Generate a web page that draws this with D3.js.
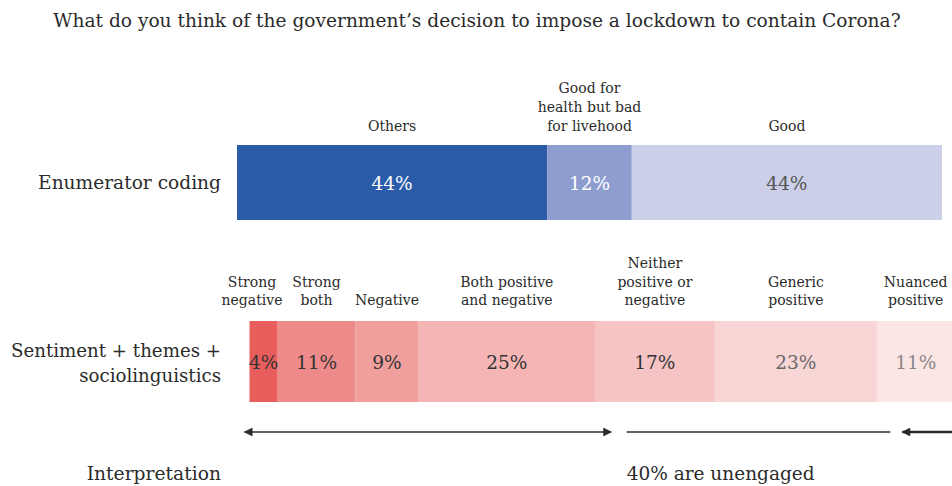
<!DOCTYPE html>
<html><head><meta charset="utf-8">
<script src="https://cdn.jsdelivr.net/npm/d3@7"></script>
<style>
html,body{margin:0;padding:0;background:#fff;overflow:hidden}
svg{display:block;font-family:"DejaVu Serif",Georgia,serif}
</style></head><body>
<svg id="c" width="952" height="486"></svg>
<script>
const title = "What do you think of the government\u2019s decision to impose a lockdown to contain Corona?";
const rowLabels = [["Enumerator coding"], ["Sentiment + themes +", "sociolinguistics"]];
const topCategories = [["Others"], ["Good for", "health but bad", "for livehood"], ["Good"]];
const topValues = [44, 12, 44];
const topColors = ["#2a5ca9", "#8e9dcf", "#cbcfe8"];
const topTextColors = ["#ffffff", "#ffffff", "#555555"];
const bottomCategories = [["Strong", "negative"], ["Strong", "both"], ["Negative"], ["Both positive", "and negative"], ["Neither", "positive or", "negative"], ["Generic", "positive"], ["Nuanced", "positive"]];
const bottomValues = [4, 11, 9, 25, 17, 23, 11];
const bottomColors = ["#e95d5d", "#ee8a8a", "#f09f9d", "#f5b5b5", "#f6c4c4", "#f8d6d6", "#fbe5e5"];
const bottomTextColors = ["#333333", "#333333", "#333333", "#333333", "#333333", "#666666", "#888888"];
const interpretationLabel = "Interpretation";
const interpretationNote = "40% are unengaged";
// spans in bottom-bar percentage units: [start, end, arrowStart, arrowEnd, heavy]
const interpretationSpans = [[-0.7, 51.3, true, true, false], [53.5, 90.9, false, false, false], [92.6, 101.5, true, true, true]];

const svg = d3.select("#c");
const ink = "#2b2b2b";

svg.append("text").attr("x", 477).attr("y", 27).attr("text-anchor", "middle")
  .attr("font-size", 18.6).attr("fill", ink).text(title);

function stack(vals){ let s=0; return vals.map(v=>{const o={x0:s,x1:s+v,v}; s+=v; return o;}); }

const xTop = d3.scaleLinear().domain([0,100]).range([237, 942]);
const xBot = d3.scaleLinear().domain([0,100]).range([249.5, 954.5]);

// row labels
const rowY = [[189], [357, 382]];
rowLabels.forEach((lines,i)=>{
  lines.forEach((l,j)=>{
    svg.append("text").attr("x", 221).attr("y", rowY[i][j]).attr("text-anchor","end")
      .attr("font-size", i===0 ? 18.6 : 18.2).attr("fill", ink).text(l);
  });
});

// top bar
const tData = stack(topValues);
const gT = svg.append("g");
gT.selectAll("rect").data(tData).join("rect")
  .attr("x", d=>xTop(d.x0)).attr("width", d=>xTop(d.x1)-xTop(d.x0))
  .attr("y", 145).attr("height", 75).attr("fill", (d,i)=>topColors[i]);
gT.selectAll("text.v").data(tData).join("text").attr("class","v")
  .attr("x", d=>(xTop(d.x0)+xTop(d.x1))/2).attr("y", 189.5).attr("text-anchor","middle")
  .attr("font-size", 18.5).attr("fill", (d,i)=>topTextColors[i]).text(d=>d.v+"%");
tData.forEach((d,i)=>{
  const lines = topCategories[i];
  const cx = (xTop(d.x0)+xTop(d.x1))/2;
  lines.forEach((l,j)=>{
    svg.append("text").attr("x", cx).attr("y", 131 - (lines.length-1-j)*19)
      .attr("text-anchor","middle").attr("font-size", 14).attr("fill", ink).text(l);
  });
});

// bottom bar
const bData = stack(bottomValues);
const gB = svg.append("g");
gB.selectAll("rect").data(bData).join("rect")
  .attr("x", d=>xBot(d.x0)).attr("width", d=>xBot(d.x1)-xBot(d.x0))
  .attr("y", 321).attr("height", 81).attr("fill", (d,i)=>bottomColors[i]);
gB.selectAll("text.v").data(bData).join("text").attr("class","v")
  .attr("x", d=>(xBot(d.x0)+xBot(d.x1))/2).attr("y", 368.5).attr("text-anchor","middle")
  .attr("font-size", 18.5).attr("fill", (d,i)=>bottomTextColors[i]).text(d=>d.v+"%");
bData.forEach((d,i)=>{
  const lines = bottomCategories[i];
  let cx = (xBot(d.x0)+xBot(d.x1))/2;
  if (i===0) cx = Math.max(cx-12, 252);
  if (i===bData.length-1) cx = Math.min(cx, 918);
  lines.forEach((l,j)=>{
    svg.append("text").attr("x", cx).attr("y", 305 - (lines.length-1-j)*18.5)
      .attr("text-anchor","middle").attr("font-size", 14).attr("fill", ink).text(l);
  });
});

// arrows
const defs = svg.append("defs");
function marker(id, orient, size){
  defs.append("marker").attr("id", id).attr("viewBox","0 0 10 10").attr("refX", 9).attr("refY",5)
    .attr("markerUnits","userSpaceOnUse").attr("markerWidth", size).attr("markerHeight", size*0.8)
    .attr("orient", orient).append("path").attr("d","M0,0L10,5L0,10Z").attr("fill", ink);
}
marker("ah", "auto-start-reverse", 11);
const ay = 432;
interpretationSpans.forEach(s=>{
  const ln = svg.append("line").attr("x1", xBot(s[0])).attr("x2", xBot(s[1]))
    .attr("y1", ay).attr("y2", ay).attr("stroke", ink).attr("stroke-width", s[4]?2.6:1.4);
  if (s[2]) ln.attr("marker-start","url(#ah)");
  if (s[3]) ln.attr("marker-end","url(#ah)");
});

svg.append("text").attr("x", 221).attr("y", 480).attr("text-anchor","end")
  .attr("font-size", 18.7).attr("fill", ink).text(interpretationLabel);
svg.append("text").attr("x", xBot(53.5)).attr("y", 480)
  .attr("font-size", 18.5).attr("fill", ink).text(interpretationNote);
</script></body></html>
